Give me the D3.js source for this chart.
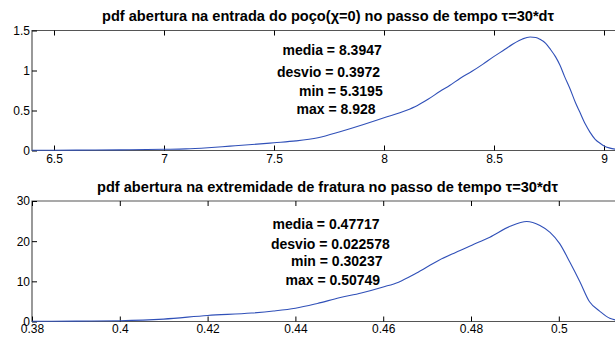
<!DOCTYPE html>
<html>
<head>
<meta charset="utf-8">
<script src="https://cdn.jsdelivr.net/npm/d3@7"></script>
<style>
  html, body { margin: 0; padding: 0; background: #fff; }
  svg { display: block; font-family: "Liberation Sans", Arial, sans-serif; }
  .tick text { font-size: 12px; fill: #000; }
  .tick line { stroke: #000; }
  .frame { stroke: #555; stroke-width: 1.2; fill: none; }
  .title { font-size: 14.5px; font-weight: bold; fill: #000; }
  .stat { font-size: 14px; font-weight: bold; fill: #000; }
  .pdf { fill: none; stroke: #3050b8; stroke-width: 1.1; }
</style>
</head>
<body>
<svg id="chart" width="615" height="338"></svg>
<script>
// Opening at the well inlet (chi = 0)
const inletX = [6.4, 6.6, 6.8, 7.0, 7.1, 7.2, 7.3, 7.4, 7.5, 7.6, 7.7, 7.8, 7.9, 8.0, 8.1, 8.15, 8.2, 8.255, 8.3, 8.345, 8.4, 8.45, 8.497, 8.55, 8.588, 8.63, 8.664, 8.69, 8.709, 8.735, 8.755, 8.78, 8.8, 8.82, 8.845, 8.87, 8.89, 8.915, 8.936, 8.96, 8.982, 9.005, 9.027, 9.06];
const inletY = [0.003, 0.005, 0.008, 0.015, 0.02, 0.035, 0.055, 0.075, 0.097, 0.12, 0.16, 0.235, 0.32, 0.41, 0.5, 0.56, 0.64, 0.74, 0.815, 0.9, 0.99, 1.08, 1.17, 1.265, 1.335, 1.395, 1.418, 1.412, 1.39, 1.34, 1.27, 1.17, 1.065, 0.93, 0.775, 0.6, 0.48, 0.33, 0.23, 0.14, 0.09, 0.05, 0.03, 0.012];

// Opening at the fracture tip
const tipX = [0.38, 0.39, 0.40, 0.41, 0.42, 0.43, 0.435, 0.44, 0.445, 0.45, 0.455, 0.46, 0.4635, 0.4675, 0.4726, 0.4765, 0.4802, 0.4843, 0.4889, 0.4927, 0.4957, 0.498, 0.5002, 0.5025, 0.5048, 0.507, 0.5093, 0.5116, 0.5133];
const tipY = [0.05, 0.1, 0.2, 0.6, 1.5, 2.1, 2.6, 3.3, 4.5, 5.9, 7.1, 8.6, 9.8, 12.0, 15.2, 17.2, 19.0, 21.0, 23.7, 24.9, 23.9, 22.2, 19.4, 14.8, 9.9, 4.9, 2.6, 0.8, 0.3];

const inletTicksX = [6.5, 7, 7.5, 8, 8.5, 9];
const inletTicksY = [0, 0.5, 1, 1.5];
const tipTicksX = [0.38, 0.4, 0.42, 0.44, 0.46, 0.48, 0.5];
const tipTicksY = [0, 10, 20, 30];

const inletTitle = "pdf abertura na entrada do poço(χ=0) no passo de tempo τ=30*dτ";
const tipTitle = "pdf abertura na extremidade de fratura no passo de tempo τ=30*dτ";

const inletStats = ["media = 8.3947", "desvio = 0.3972", "min = 5.3195", "max = 8.928"];
const tipStats = ["media = 0.47717", "desvio = 0.022578", "min = 0.30237", "max = 0.50749"];

const svg = d3.select("#chart");

function panel(cfg) {
  const x = d3.scaleLinear().domain(cfg.xDomain).range([32, 617.2]);
  const y = d3.scaleLinear().domain(cfg.yDomain).range([cfg.bottom, cfg.top]);
  const g = svg.append("g");

  // frame (right edge falls outside the window)
  g.append("path").attr("class", "frame")
    .attr("d", `M617,${cfg.top}H32V${cfg.bottom}H617`);

  const fmt = cfg.fmt;
  const bottomAxis = d3.axisBottom(x).tickValues(cfg.xTicks).tickFormat(fmt)
    .tickSizeInner(-5).tickSizeOuter(0).tickPadding(cfg.xPad);
  const topAxis = d3.axisTop(x).tickValues(cfg.xTicks).tickFormat("")
    .tickSizeInner(-5).tickSizeOuter(0);
  const leftAxis = d3.axisLeft(y).tickValues(cfg.yTicks).tickFormat(d3.format("~g"))
    .tickSizeInner(-5).tickSizeOuter(0).tickPadding(2);

  const gb = g.append("g").attr("transform", `translate(0,${cfg.bottom})`).call(bottomAxis);
  const gt = g.append("g").attr("transform", `translate(0,${cfg.top})`).call(topAxis);
  const gl = g.append("g").attr("transform", `translate(32,0)`).call(leftAxis);
  [gb, gt, gl].forEach(a => {
    a.select(".domain").remove();
    a.attr("font-family", null).attr("font-size", null);
  });

  // density curve
  const pts = cfg.xs.map((v, i) => [v, cfg.ys[i]]);
  g.append("path").attr("class", "pdf")
    .attr("d", d3.line().x(d => x(d[0])).y(d => y(d[1])).curve(d3.curveMonotoneX)(pts));

  // title
  g.append("text").attr("class", "title")
    .attr("x", cfg.titleX).attr("y", cfg.titleY).attr("text-anchor", "middle")
    .attr("textLength", cfg.titleW).attr("lengthAdjust", "spacingAndGlyphs")
    .text(cfg.title);

  // summary statistics
  cfg.stats.forEach((s, i) => {
    g.append("text").attr("class", "stat")
      .attr("x", cfg.statX[i]).attr("y", cfg.statY[i]).text(s);
  });
}

panel({
  xDomain: [6.4, 9.06], yDomain: [0, 1.5], top: 30.5, bottom: 150.5,
  xTicks: inletTicksX, yTicks: inletTicksY, fmt: d3.format("~g"), xPad: 4,
  xs: inletX, ys: inletY, title: inletTitle, titleX: 328, titleY: 21, titleW: 452,
  stats: inletStats, statX: [282.5, 277, 299, 296.5], statY: [54.5, 76.5, 95.5, 114]
});

panel({
  xDomain: [0.38, 0.5133], yDomain: [0, 30], top: 201, bottom: 321.5,
  xTicks: tipTicksX, yTicks: tipTicksY, fmt: d3.format("~g"), xPad: 3,
  xs: tipX, ys: tipY, title: tipTitle, titleX: 327.5, titleY: 191.5, titleW: 461,
  stats: tipStats, statX: [272.5, 271, 291, 285.5], statY: [228.5, 249, 266, 284.5]
});
</script>
</body>
</html>
